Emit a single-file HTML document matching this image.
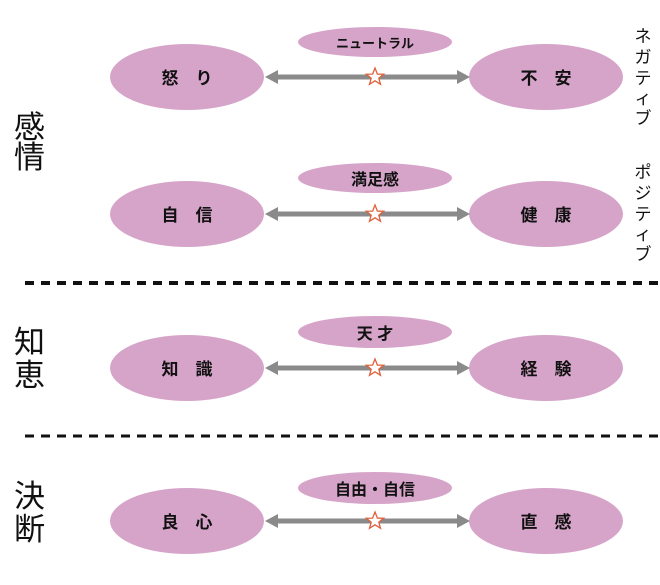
<!DOCTYPE html>
<html><head><meta charset="utf-8"><style>
html,body{margin:0;padding:0;background:#fff;width:660px;height:585px;overflow:hidden}
svg text{font-family:"Liberation Sans","Noto Sans CJK JP",sans-serif;fill:#111}
</style></head><body>
<svg width="660" height="585" viewBox="0 0 660 585" xmlns="http://www.w3.org/2000/svg">
<defs>
<g id="arr">
<rect x="276" y="-2.5" width="182" height="5" fill="#8a8a8a"/>
<polygon points="265,0 278,-7 278,7" fill="#8a8a8a"/>
<polygon points="470,0 457,-7 457,7" fill="#8a8a8a"/>
<polygon points="375,-9 377.4,-2.9 383.6,-2.8 378.8,1.2 380.5,7.3 375,3.8 369.5,7.3 371.2,1.2 366.4,-2.8 372.6,-2.9" fill="#fff" stroke="#e0603a" stroke-width="1.3"/>
</g>
</defs>
<g fill="#d6a4c9">
<ellipse cx="187" cy="77" rx="77" ry="33"/><ellipse cx="546" cy="77" rx="77" ry="33"/><ellipse cx="375" cy="42" rx="77" ry="15"/>
<ellipse cx="187" cy="214" rx="77" ry="33"/><ellipse cx="546" cy="214" rx="77" ry="33"/><ellipse cx="375" cy="178" rx="77" ry="15"/>
<ellipse cx="187" cy="368" rx="77" ry="33"/><ellipse cx="546" cy="368" rx="77" ry="33"/><ellipse cx="375" cy="332" rx="77" ry="16"/>
<ellipse cx="187" cy="521" rx="77" ry="33"/><ellipse cx="546" cy="521" rx="77" ry="33"/><ellipse cx="375" cy="488" rx="77" ry="16"/>
</g>
<use href="#arr" transform="translate(0,77)"/>
<use href="#arr" transform="translate(0,214)"/>
<use href="#arr" transform="translate(0,368)"/>
<use href="#arr" transform="translate(0,521)"/>
<g font-size="17" font-weight="bold" text-anchor="middle">
<text x="187" y="84">怒　り</text><text x="546" y="84">不　安</text><text x="375" y="48" font-size="13">ニュートラル</text>
<text x="187" y="221">自　信</text><text x="546" y="221">健　康</text><text x="375" y="185" font-size="16">満足感</text>
<text x="187" y="375">知　識</text><text x="546" y="375">経　験</text><text x="375" y="339" font-size="16">天 才</text>
<text x="187" y="528">良　心</text><text x="546" y="528">直　感</text><text x="375" y="495" font-size="16">自由・自信</text>
</g>
<g font-size="31">
<text x="14" y="138">感</text><text x="14" y="168">情</text>
<text x="14" y="353">知</text><text x="14" y="386">恵</text>
<text x="14" y="507">決</text><text x="14" y="540">断</text>
</g>
<g font-size="17" text-anchor="middle">
<text x="643" y="42">ネ</text><text x="643" y="63">ガ</text><text x="643" y="84">テ</text><text x="643" y="104">ィ</text><text x="643" y="124">ブ</text>
<text x="643" y="178">ポ</text><text x="643" y="199">ジ</text><text x="643" y="220">テ</text><text x="643" y="240">ィ</text><text x="643" y="260">ブ</text>
</g>
<line x1="25" y1="283" x2="660" y2="283" stroke="#111" stroke-width="4" stroke-dasharray="9,7"/>
<line x1="25" y1="436" x2="660" y2="436" stroke="#111" stroke-width="3" stroke-dasharray="9,7"/>
</svg>
</body></html>
